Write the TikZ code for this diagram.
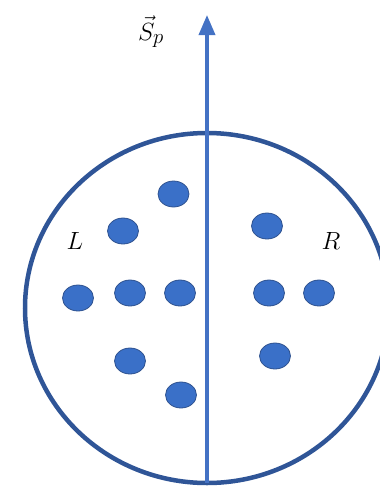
\documentclass[tikz,border=0pt]{standalone}
\usepackage{amsmath, amssymb}
\usepackage{tikz}
\usetikzlibrary{arrows.meta, shapes.geometric}

\definecolor{rimblue}{RGB}{47,85,151}
\definecolor{axisblue}{RGB}{68,114,196}
\definecolor{dotfill}{RGB}{58,112,200}
\definecolor{dotline}{RGB}{47,82,143}

\begin{document}
\begin{tikzpicture}[x=1pt, y=-1pt, >=Stealth,
    dot/.style={ellipse, draw=dotline, fill=dotfill, line width=0.8pt, minimum width=31pt, minimum height=26pt, inner sep=0pt},
    lbl/.style={font=\fontsize{31}{36}\selectfont, inner sep=0pt}]
    \useasboundingbox (0,0) rectangle (380,488);
    \clip (0,0) rectangle (380,488);
    \draw[rimblue, line width=4.5pt] (207,308) ellipse [x radius=182pt, y radius=175pt];
    \coordinate (bot) at (207,483);
    \coordinate (top) at (207,15);
    \draw[-{Triangle[width=16pt, length=20pt]}, axisblue, line width=3.5pt] (bot) -- (top);
    \node[lbl, anchor=base west] (sp) at (138,40) {$\vec{S}_{p}$};
    \node[lbl, anchor=base] (lL) at (75,249) {$L$};
    \node[lbl, anchor=base] (lR) at (331,249) {$R$};
    \node[dot] (d1) at (173.5,194) {};
    \node[dot] (d2) at (123,231) {};
    \node[dot] (d3) at (78,298) {};
    \node[dot] (d4) at (130,293) {};
    \node[dot] (d5) at (180,293) {};
    \node[dot] (d6) at (267,226) {};
    \node[dot] (d7) at (269,293) {};
    \node[dot] (d8) at (319,293) {};
    \node[dot] (d9) at (130,361) {};
    \node[dot] (d10) at (181,395) {};
    \node[dot] (d11) at (275,356) {};
\end{tikzpicture}
\end{document}
